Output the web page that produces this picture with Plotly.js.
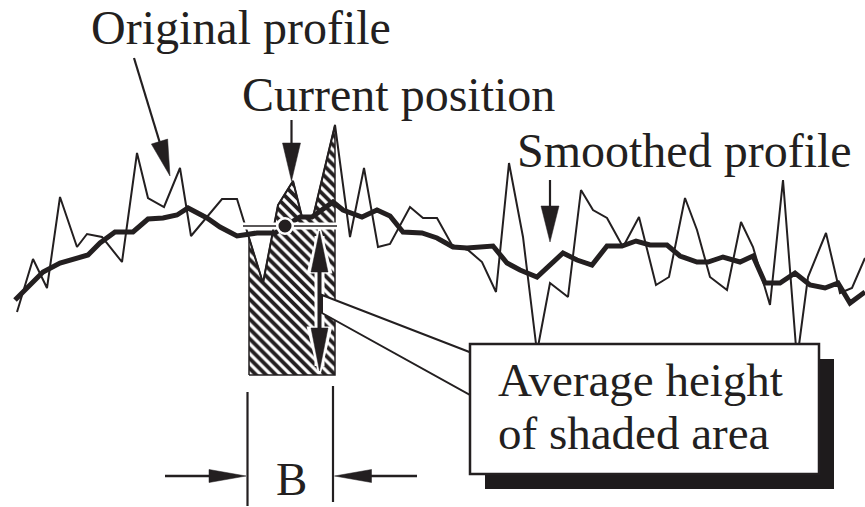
<!DOCTYPE html>
<html>
<head>
<meta charset="utf-8">
<script src="https://cdn.plot.ly/plotly-3.0.1.min.js"></script>
<style>html,body{margin:0;padding:0;background:#fff;}#chart{width:865px;height:507px;}</style>
</head>
<body>
<div id="chart"></div>
<script>
// Original (raw) profile vertices (pixel-like units, y downwards)
const origX = [17, 33, 47, 60, 77, 87, 102, 122, 137, 148, 164, 180, 191, 222, 237, 263, 278, 293, 302, 313, 335, 350, 364, 378, 390, 410, 423, 437, 452, 468, 482, 496, 509, 523, 537, 550, 568, 581, 593, 607, 623, 639, 656, 669, 685, 697, 710, 727, 741, 753, 770, 783, 797, 808, 826, 840, 852, 865];
const origY = [312, 259, 288, 197, 247, 234, 237, 262, 153, 198, 207, 168, 236, 199, 199, 283, 205, 181, 217, 217, 125, 237, 168, 247, 244, 207, 218, 218, 245, 250, 262, 292, 163, 237, 352, 283, 297, 190, 210, 218, 247, 217, 285, 277, 198, 230, 277, 290, 222, 247, 305, 180, 360, 277, 233, 293, 288, 258];

// Smoothed profile
const smoothX = [15, 30, 43, 60, 88, 100, 115, 133, 148, 163, 177, 188, 207, 220, 237, 257, 275, 285, 300, 312, 333, 343, 362, 377, 390, 403, 422, 437, 453, 467, 480, 493, 507, 520, 537, 550, 563, 577, 592, 607, 622, 636, 650, 667, 680, 697, 708, 723, 740, 753, 765, 780, 795, 810, 825, 838, 850, 865];
const smoothY = [300, 285, 272, 263, 255, 243, 232, 232, 219, 218, 215, 208, 218, 227, 236, 233, 233, 226, 217, 217, 202, 210, 217, 210, 216, 232, 233, 238, 247, 248, 247, 246, 263, 270, 277, 265, 253, 260, 265, 246, 246, 241, 245, 245, 256, 262, 262, 257, 262, 256, 283, 283, 273, 285, 288, 283, 303, 292];

// Window (B) around the current position and the baseline of the shaded area
const windowStart = 249;
const windowEnd = 335;
const shadeBase = 375;
const currentX = 285;
const currentY = 226;

// Labels
const labelOriginal = "Original profile";
const labelCurrent = "Current position";
const labelSmoothed = "Smoothed profile";
const labelAverage1 = "Average height";
const labelAverage2 = "of shaded area";
const labelB = "B";

const INK = '#231f20';
const FONT = "'Liberation Serif', 'Times New Roman', Times, serif";

function yAt(x) {
  for (let i = 0; i < origX.length - 1; i++) {
    if (x >= origX[i] && x <= origX[i + 1]) {
      const t = (x - origX[i]) / (origX[i + 1] - origX[i]);
      return origY[i] + t * (origY[i + 1] - origY[i]);
    }
  }
  return origY[origY.length - 1];
}

// shaded polygon follows the original profile inside the window
const shadeX = [windowStart, windowStart];
const shadeY = [shadeBase, yAt(windowStart)];
origX.forEach((x, i) => { if (x > windowStart && x < windowEnd) { shadeX.push(x); shadeY.push(origY[i]); } });
shadeX.push(windowEnd, windowEnd, windowStart);
shadeY.push(yAt(windowEnd), shadeBase, shadeBase);

function tri(tx, ty, bx, by, hw) {
  const dx = tx - bx, dy = ty - by, len = Math.hypot(dx, dy);
  const nx = -dy / len, ny = dx / len;
  return `M${tx},${ty} L${bx + nx * hw},${by + ny * hw} L${bx - nx * hw},${by - ny * hw} Z`;
}
function headBase(sx, sy, tx, ty, L) {
  const dx = tx - sx, dy = ty - sy, len = Math.hypot(dx, dy);
  return [tx - dx / len * L, ty - dy / len * L];
}
const shapes = [];
function line(x0, y0, x1, y1, w, c) {
  shapes.push({type: 'line', layer: 'above', xref: 'x', yref: 'y', x0, y0, x1, y1, line: {color: c || INK, width: w}});
}
function head(tx, ty, bx, by, hw, c, lw) {
  shapes.push({type: 'path', layer: 'above', xref: 'x', yref: 'y', path: tri(tx, ty, bx, by, hw),
    fillcolor: c || INK, line: {color: c || INK, width: lw || 0.5}});
}
function arrow(sx, sy, tx, ty, L, hw, w) {
  const b = headBase(sx, sy, tx, ty, L);
  line(sx, sy, b[0] + (tx - b[0]) * 0.2, b[1] + (ty - b[1]) * 0.2, w);
  head(tx, ty, b[0], b[1], hw);
}

// average height line with dot
line(243, currentY, 337, currentY, 7, '#ffffff');
line(243, currentY, 337, currentY, 1.6, INK);
shapes.push({type: 'circle', layer: 'above', xref: 'x', yref: 'y', x0: currentX - 9, y0: currentY - 9, x1: currentX + 9, y1: currentY + 9, fillcolor: '#fff', line: {width: 0}});
shapes.push({type: 'circle', layer: 'above', xref: 'x', yref: 'y', x0: currentX - 6.5, y0: currentY - 6.5, x1: currentX + 6.5, y1: currentY + 6.5, fillcolor: INK, line: {width: 0}});

// double arrow inside the shaded area (white halo then black)
const dax = 319.5;
line(dax, 236, dax, 366, 10, '#ffffff');
head(dax, 229, dax, 272, 11, '#ffffff', 3);
head(dax, 373, dax, 328, 11, '#ffffff', 3);
line(dax, 262, dax, 338, 4, INK);
head(dax, 231, dax, 272, 8.5);
head(dax, 371, dax, 328, 8.5);

// callout wedge
shapes.push({type: 'path', layer: 'above', xref: 'x', yref: 'y', path: 'M322,295 L472,353 L472,396 L322,313 Z', fillcolor: '#fff', line: {color: INK, width: 2}});
// shadow + box
shapes.push({type: 'rect', layer: 'above', xref: 'x', yref: 'y', x0: 485, y0: 359, x1: 834, y1: 489, fillcolor: '#1e1b1c', line: {width: 0}});
shapes.push({type: 'rect', layer: 'above', xref: 'x', yref: 'y', x0: 470, y0: 344, x1: 819, y1: 474, fillcolor: '#fff', line: {color: INK, width: 2.5}});

// label arrows
arrow(134, 58, 170, 176, 36, 8.5, 2.2);
arrow(291.5, 120, 291.5, 181, 38, 9, 2.2);
arrow(550, 180, 550, 242, 36, 9, 2.2);

// B dimension
line(247.5, 392, 247.5, 506, 2.2);
line(333, 386, 333, 502, 2.2);
arrow(165, 476, 246, 476, 37, 6.5, 2.5);
arrow(417, 476, 334.5, 476, 37, 6.5, 2.5);

const traces = [
  {x: shadeX, y: shadeY, type: 'scatter', mode: 'lines', fill: 'toself', fillcolor: '#fff',
   fillpattern: {shape: '\\', fgcolor: INK, bgcolor: '#ffffff', size: 7, solidity: 0.55},
   line: {color: INK, width: 1.5}, hoverinfo: 'skip'},
  {x: origX, y: origY, type: 'scatter', mode: 'lines', line: {color: INK, width: 2}, hoverinfo: 'skip'},
  {x: smoothX, y: smoothY, type: 'scatter', mode: 'lines', line: {color: INK, width: 5, shape: 'linear'}, hoverinfo: 'skip'}
];

function txt(text, x, y, anchor, size) {
  return {text, x, y, xref: 'x', yref: 'y', xanchor: anchor || 'left', yanchor: 'middle', showarrow: false,
    font: {family: FONT, size: size || 48, color: INK}};
}
const annotations = [
  txt(labelOriginal, 89, 27),
  txt(labelCurrent, 240, 94),
  txt(labelSmoothed, 515, 150),
  txt(labelAverage1, 496, 380, 'left', 47),
  txt(labelAverage2, 496, 433, 'left', 47),
  txt(labelB, 291, 479, 'center', 47)
];

const layout = {
  width: 865, height: 507,
  margin: {l: 0, r: 0, t: 0, b: 0, pad: 0},
  paper_bgcolor: '#fff', plot_bgcolor: '#fff',
  showlegend: false,
  xaxis: {range: [0, 865], visible: false, fixedrange: true},
  yaxis: {range: [507, 0], visible: false, fixedrange: true},
  shapes, annotations
};
Plotly.newPlot('chart', traces, layout, {displayModeBar: false, staticPlot: true});
</script>
</body>
</html>
